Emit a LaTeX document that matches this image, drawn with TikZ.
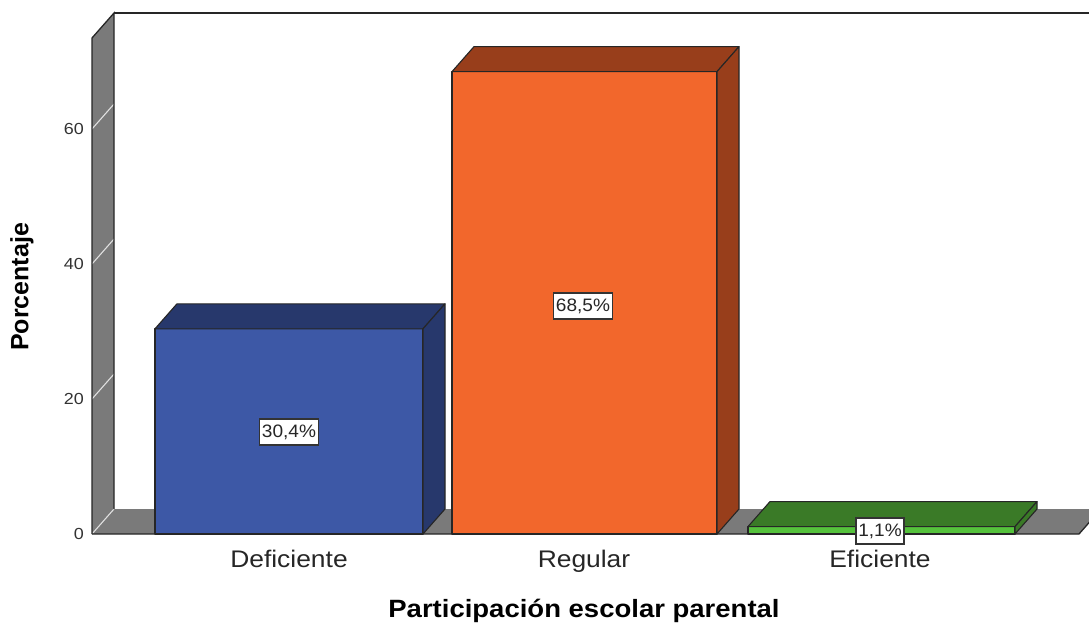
\documentclass[tikz,border=0pt]{standalone}
\usepackage{fontspec}
\setmainfont{Liberation Sans}
\newcommand\fsz[1]{\fontsize{#1}{#1}\selectfont}
\definecolor{wallgray}{HTML}{7A7A7A}
\definecolor{bluefront}{HTML}{3D58A6}
\definecolor{bluedark}{HTML}{27386C}
\definecolor{orfront}{HTML}{F2672C}
\definecolor{ordark}{HTML}{983E1B}
\definecolor{grfront}{HTML}{55C23C}
\definecolor{grdark}{HTML}{3A7A27}
\newcommand\drawbar[5]{%
  \pgfmathsetmacro\yt{534-6.75*#3}%
  \draw[baredge,fill=#4] (#1,534) rectangle (#2,\yt);
  \draw[baredge,fill=#5] (#1,\yt) -- ({#1+22},{\yt-25}) -- ({#2+22},{\yt-25}) -- (#2,\yt) -- cycle;
  \draw[baredge,fill=#5] (#2,\yt) -- ({#2+22},{\yt-25}) -- ({#2+22},509) -- (#2,534) -- cycle;
}
\tikzset{
  edge/.style={draw=black!85,line width=1.3pt},
  baredge/.style={draw=black!85,line width=1.1pt,line join=round},
  ticklab/.style={anchor=east,font=\fsz{16},text=black!80,xscale=1.12,inner sep=0pt},
  catlab/.style={anchor=base,font=\fsz{24},text=black!85,xscale=1.1,inner sep=0pt},
  pctlab/.style={draw=black!80,line width=1.3pt,fill=white,font=\fsz{18},text=black!85,xscale=1.06,inner xsep=2pt,inner ysep=0pt,minimum height=26pt},
  tickline/.style={draw=white!88!black,line width=1.1pt},
}
\begin{document}
\begin{tikzpicture}[x=1pt,y=-1pt]
\useasboundingbox (0,0) rectangle (1089,623);
\begin{scope}
\clip (0,0) rectangle (1089,623);
% left wall
\fill[wallgray] (92,534) -- (92,38) -- (114,13) -- (114,509) -- cycle;
% floor
\fill[wallgray] (92,534) -- (114,509) -- (1101,509) -- (1079,534) -- cycle;
% tick lines
\foreach \v in {0,20,40,60} {
  \draw[tickline] (92,{534-6.75*\v}) -- ++(22,-25);
}
\draw[edge] (92,534) -- (92,38) -- (114,13) -- (114,509);
\draw[edge] (114,13) -- (1095,13);
\draw[edge] (92,534) -- (1079,534) -- (1101,509);
% bars
\drawbar{155}{423}{30.4}{bluefront}{bluedark}
\drawbar{452}{717}{68.5}{orfront}{ordark}
\drawbar{748}{1015}{1.1}{grfront}{grdark}
\end{scope}
% tick labels
\node[ticklab] (t0) at (84,534) {0};
\node[ticklab] (t20) at (84,399) {20};
\node[ticklab] (t40) at (84,264) {40};
\node[ticklab] (t60) at (84,129) {60};
% percent labels
\node[pctlab] (p1) at (289,432) {30,4\%};
\node[pctlab] (p2) at (583,306) {68,5\%};
\node[pctlab] (p3) at (880,531) {1,1\%};
% categories
\node[catlab] (c1) at (289,567) {Deficiente};
\node[catlab] (c2) at (584,567) {Regular};
\node[catlab] (c3) at (880,567) {Eficiente};
% axis titles
\node[anchor=base,font=\fsz{25}\bfseries,xscale=1.1,inner sep=0pt] (xt) at (584,617) {Participación escolar parental};
\node[font=\fsz{25}\bfseries,rotate=90,inner sep=0pt] (yt) at (22,287) {Porcentaje};
\end{tikzpicture}
\end{document}
